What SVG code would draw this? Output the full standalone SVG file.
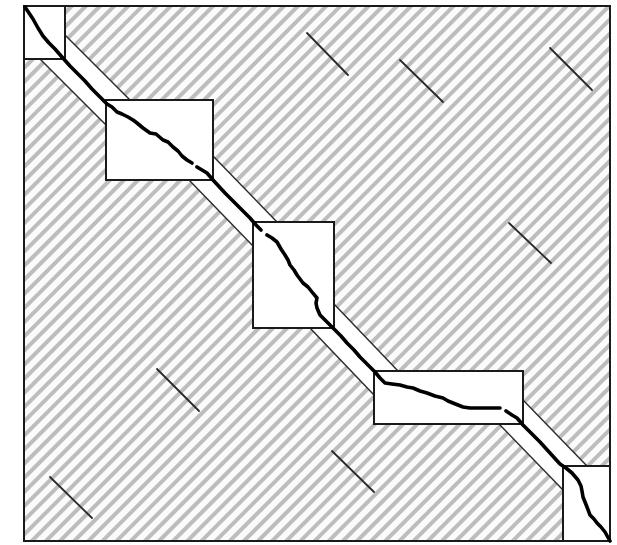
<svg xmlns="http://www.w3.org/2000/svg" width="617" height="545" viewBox="0 0 617 545">
<style>
.box{fill:#fff;stroke:#1a1a1a;stroke-width:2}
.band{fill:#fff;stroke:none}
.edge{stroke:#2a2a2a;stroke-width:1.4;fill:none}
.tick{stroke:#2a2a2a;stroke-width:1.8;stroke-linecap:round}
.path{fill:none;stroke:#000;stroke-width:3.6;stroke-linejoin:round;stroke-linecap:round}
</style>
<defs>
<pattern id="hatch" patternUnits="userSpaceOnUse" width="10" height="10" patternTransform="rotate(-45)">
<rect x="0" y="0" width="10" height="10" fill="#fbfbfb"/>
<rect x="0" y="3" width="10" height="4" fill="#bdbdbd"/>
</pattern>
</defs>
<rect x="0" y="0" width="617" height="545" fill="#fff"/>
<rect id="field" x="24" y="6" width="586" height="535" fill="url(#hatch)"/>
<g id="ticks">
<line class="tick" x1="307" y1="33" x2="348" y2="75"/>
<line class="tick" x1="400" y1="60" x2="443" y2="102"/>
<line class="tick" x1="550" y1="48" x2="592" y2="90"/>
<line class="tick" x1="509" y1="223" x2="551" y2="263"/>
<line class="tick" x1="157" y1="369" x2="199" y2="411"/>
<line class="tick" x1="50" y1="477" x2="92" y2="518"/>
<line class="tick" x1="332" y1="451" x2="374" y2="492"/>
</g>
<g id="bands">
<polygon class="band" points="65,35 130,100 106,125 40,59"/>
<line class="edge" x1="65" y1="35" x2="130" y2="100"/>
<line class="edge" x1="40" y1="59" x2="106" y2="125"/>
<polygon class="band" points="213,156 277,222 253,246 189,180"/>
<line class="edge" x1="213" y1="156" x2="277" y2="222"/>
<line class="edge" x1="189" y1="180" x2="253" y2="246"/>
<polygon class="band" points="334,304 398,371 374,395 310,328"/>
<line class="edge" x1="334" y1="304" x2="398" y2="371"/>
<line class="edge" x1="310" y1="328" x2="374" y2="395"/>
<polygon class="band" points="523,400 587,466 563,490 499,424"/>
<line class="edge" x1="523" y1="400" x2="587" y2="466"/>
<line class="edge" x1="499" y1="424" x2="563" y2="490"/>
</g>
<g id="box1"><rect class="box" x="24" y="6" width="41" height="53"/></g>
<g id="box2"><rect class="box" x="106" y="100" width="107" height="80"/></g>
<g id="box3"><rect class="box" x="253" y="222" width="81" height="106"/></g>
<g id="box4"><rect class="box" x="374" y="371" width="149" height="53"/></g>
<g id="box5"><rect class="box" x="563" y="466" width="47" height="75"/></g>
<rect id="frame" x="24" y="6" width="586" height="535" fill="none" stroke="#1a1a1a" stroke-width="2"/>
<g id="warp-path">
<polyline class="path" points="25,7 29,13 33,19 38,28 43,36 49,43 55,49 62,57 70,66 78,74 85,81 92,89 98,95 107,104 112,107 117,112 122,114 128,117 133,120 137,123 143,128 150,133 156,134 163,140 168,142 173,147 178,151 182,156 187,160 192,163"/>
<polyline class="path" points="197,167 202,170 207,173 213,180 225,193 240,208 250,218 256,225 261,230"/>
<polyline class="path" points="267,235 272,238 277,242 281,249 285,255 288,260 290,265 294,270 297,275 303,283 308,287 312,292 317,298 316,303 317,308 320,315 324,319 328,323 334,329 341,336 347,343 354,350 360,357 367,364 375,372 380,378 385,383 392,384 400,385 407,387 413,388 420,391 427,393 435,396 443,398 448,401 453,403 458,405 463,407 470,408 477,408 488,408 500,408"/>
<polyline class="path" points="506,411 512,415 517,418 523,425 531,433 540,442 550,453 560,464 566,468 572,473 578,480 581,486 582,491 583,497 585,502 587,507 590,515 594,519 597,523 601,527 605,532 610,541"/>
</g>
</svg>
